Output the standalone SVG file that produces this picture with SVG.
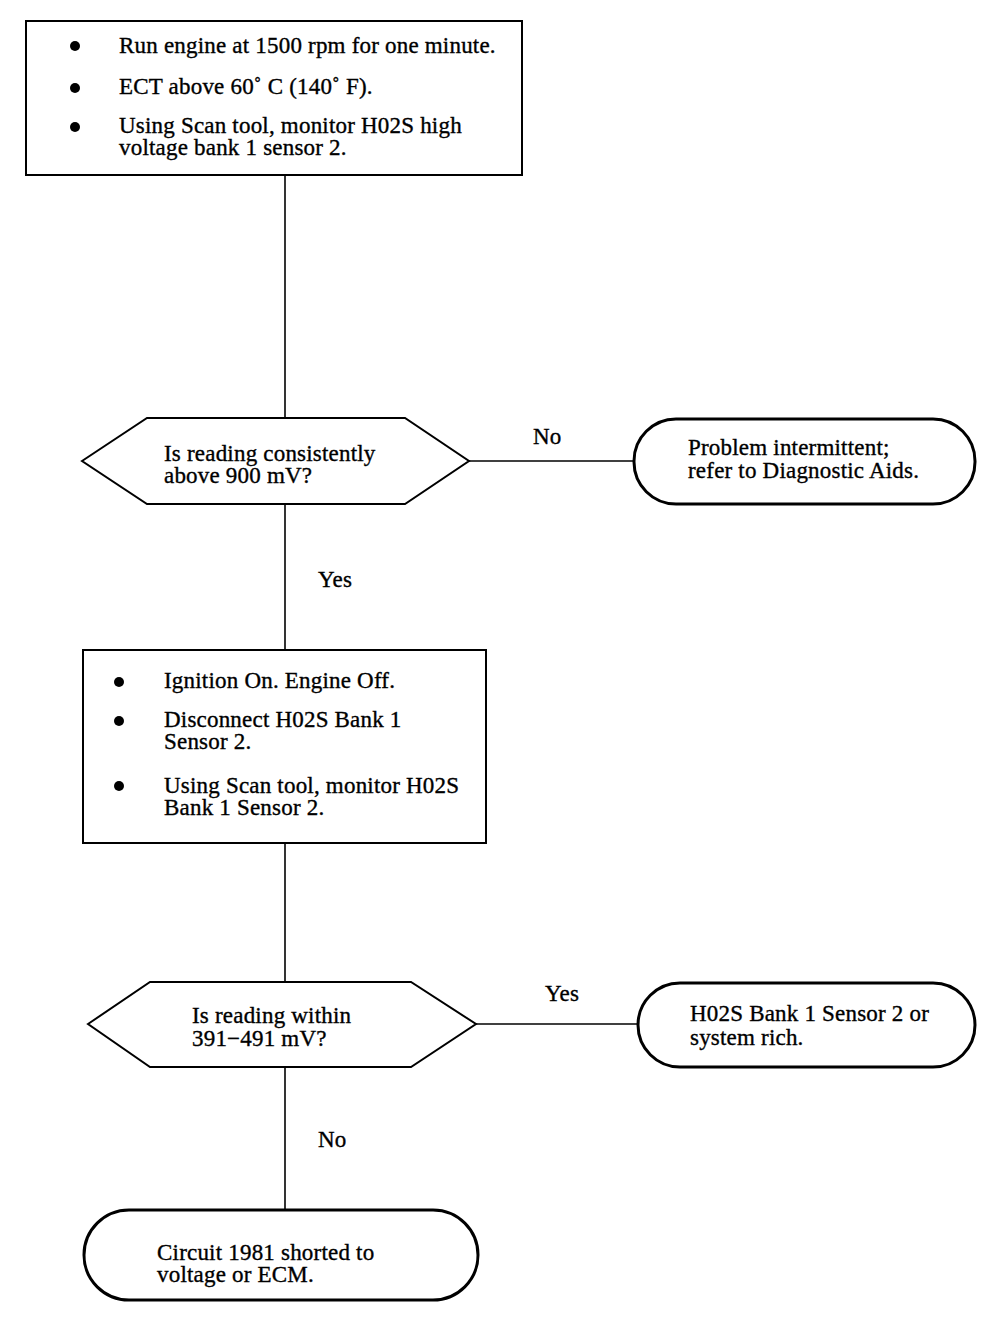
<svg xmlns="http://www.w3.org/2000/svg" width="1008" height="1336" viewBox="0 0 1008 1336">
<style>
.box{fill:#fff;stroke:#000;stroke-width:2}
.pill{fill:#fff;stroke:#000;stroke-width:3}
.ln{stroke:#000;stroke-width:1.6;fill:none}
text{font-family:"Liberation Serif","Times New Roman",serif;font-size:23px;letter-spacing:0.2px;fill:#000;stroke:#000;stroke-width:0.35}
.dot{fill:#000}
</style>
<rect width="1008" height="1336" fill="#fff"/>
<g id="connectors">
<line class="ln" x1="285" y1="175" x2="285" y2="418"/>
<line class="ln" x1="469" y1="461" x2="634" y2="461"/>
<line class="ln" x1="285" y1="504" x2="285" y2="650"/>
<line class="ln" x1="285" y1="843" x2="285" y2="982"/>
<line class="ln" x1="476" y1="1024" x2="638" y2="1024"/>
<line class="ln" x1="285" y1="1067" x2="285" y2="1210"/>
<text x="533" y="444">No</text>
<text x="318" y="587">Yes</text>
<text x="545" y="1001">Yes</text>
<text x="318" y="1147">No</text>
</g>
<g id="step1">
<rect class="box" x="26" y="21" width="496" height="154"/>
<circle class="dot" cx="75" cy="46" r="5"/>
<circle class="dot" cx="75" cy="88" r="5"/>
<circle class="dot" cx="75" cy="127" r="5"/>
<text x="119" y="53">Run engine at 1500 rpm for one minute.</text>
<text x="119" y="94">ECT above 60˚ C (140˚ F).</text>
<text x="119" y="133">Using Scan tool, monitor H02S high</text>
<text x="119" y="155">voltage bank 1 sensor 2.</text>
</g>
<g id="decision1">
<polygon class="box" points="82,461 147,418 405,418 469,461 405,504 147,504"/>
<text x="164" y="461">Is reading consistently</text>
<text x="164" y="483">above 900 mV?</text>
</g>
<g id="result1">
<rect class="pill" x="634" y="419" width="341" height="85" rx="42" ry="42"/>
<text x="688" y="455">Problem intermittent;</text>
<text x="688" y="478">refer to Diagnostic Aids.</text>
</g>
<g id="step2">
<rect class="box" x="83" y="650" width="403" height="193"/>
<circle class="dot" cx="119" cy="682" r="5"/>
<circle class="dot" cx="119" cy="721" r="5"/>
<circle class="dot" cx="119" cy="786" r="5"/>
<text x="164" y="688">Ignition On. Engine Off.</text>
<text x="164" y="727">Disconnect H02S Bank 1</text>
<text x="164" y="749">Sensor 2.</text>
<text x="164" y="793">Using Scan tool, monitor H02S</text>
<text x="164" y="815">Bank 1 Sensor 2.</text>
</g>
<g id="decision2">
<polygon class="box" points="88,1024 150,982 411,982 476,1024 411,1067 150,1067"/>
<text x="192" y="1023">Is reading within</text>
<text x="192" y="1046">391−491 mV?</text>
</g>
<g id="result2">
<rect class="pill" x="638" y="983" width="337" height="84" rx="42" ry="42"/>
<text x="690" y="1021">H02S Bank 1 Sensor 2 or</text>
<text x="690" y="1045">system rich.</text>
</g>
<g id="result3">
<rect class="pill" x="84" y="1210" width="394" height="90" rx="45" ry="45"/>
<text x="157" y="1260">Circuit 1981 shorted to</text>
<text x="157" y="1282">voltage or ECM.</text>
</g>
</svg>
